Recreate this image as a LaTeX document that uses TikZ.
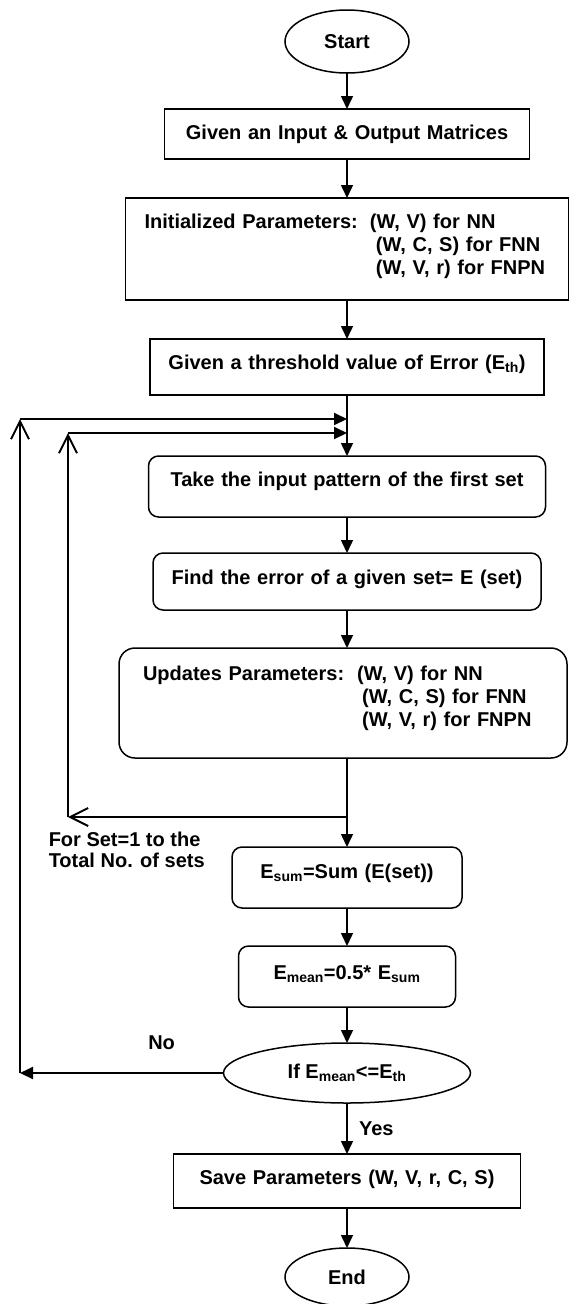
\documentclass[tikz,border=0pt]{standalone}
\usepackage{fontspec}
\setmainfont{Liberation Sans}
\usetikzlibrary{positioning,calc,shapes.geometric,arrows.meta}

\tikzset{
  box/.style={draw, rectangle, inner ysep=0pt, inner xsep=0pt, outer sep=0pt, align=center, text height=30pt},
  rbox/.style={box, rounded corners=10pt},
  term/.style={draw, ellipse, minimum width=124pt, minimum height=63pt, inner sep=0pt, outer sep=0pt},
  barb/.style={-{Straight Barb[length=18pt,width=18pt]}, line width=2pt},
}

\begin{document}
\begin{tikzpicture}[x=1pt, y=1pt, node distance=38pt, line width=1.5pt,
  >={Triangle[length=13pt,width=12pt]},
  every node/.style={font=\bfseries\fontsize{20}{23}\selectfont}]
\useasboundingbox (0,0) rectangle (569,-1304);
\node[term] (0) at (347,-41.5) {Start};
\node[box, text width=365pt, text depth=20pt] (1) [below=of 0, yshift=2pt] {Given an Input \& Output Matrices};
\node[box, text width=405pt, inner xsep=19pt, align=left, text depth=72pt] (2) [below=of 1, yshift=-1pt] {\begin{tabular}[t]{@{}l@{\hspace{12pt}}l@{}}Initialized Parameters: & (W, V) for NN\\ & \hspace{6pt}(W, C, S) for FNN\\ & \hspace{6pt}(W, V, r) for FNPN\end{tabular}};
\node[box, text width=394pt, text depth=26pt] (3) [below=of 2, yshift=-1pt] {Given a threshold value of Error (E\textsubscript{th})};
\node[rbox, text width=397pt, text depth=31pt] (4) [below=of 3, yshift=-23pt] {Take the input pattern of the first set};
\node[rbox, text width=388pt, text height=31pt, text depth=26pt] (5) [below=of 4, yshift=2pt] {Find the error of a given set= E (set)};
\node[rbox, rounded corners=16pt, text width=400pt, inner xsep=24pt, align=left, text height=32pt, text depth=78pt] (6) [below=of 5, xshift=-4pt] {\begin{tabular}[t]{@{}l@{\hspace{13pt}}l@{}}Updates Parameters: & (W, V) for NN\\ & \hspace{5pt}(W, C, S) for FNN\\ & \hspace{5pt}(W, V, r) for FNPN\end{tabular}};
\node[rbox, text width=230pt, text height=31pt, text depth=30pt] (7) [below=of 6, xshift=4pt, yshift=-51pt] {E\textsubscript{sum}=Sum (E(set))};
\node[rbox, text width=217pt, text height=33pt, text depth=28pt] (8) [below=of 7] {E\textsubscript{mean}=0.5* E\textsubscript{sum}};
\node[term, minimum width=247pt, minimum height=60pt] (9) [below=of 8, yshift=2pt] {If E\textsubscript{mean}<=E\textsubscript{th}};
\node[box, text width=347pt, text depth=24pt] (10) [below=of 9, yshift=-13pt] {Save Parameters (W, V, r, C, S)};
\node[term, minimum height=58pt] (11) [below=of 10, yshift=-2pt] {End};

\draw[->] (0) -- (1);
\draw[->] (1) -- (2);
\draw[->] (2) -- (3);
\draw[->] (3) -- (4);
\draw[->] (4) -- (5);
\draw[->] (5) -- (5.south |- 6.north);
\draw[->] (7 |- 6.south) -- (7);
\draw[->] (7) -- (8);
\draw[->] (8) -- (9);
\draw[->] (9) -- node[right=8pt] {Yes} (10);
\draw[->] (10) -- (11);

% loops back to the first set
\coordinate (j) at ($(7.north)+(0,30pt)$);
\coordinate (m1) at ($(4.north)+(-279,23)$);
\coordinate (m2) at (j -| m1);
\coordinate (o1) at ($(4.north)+(-327,37)$);
\coordinate (o2) at (9.west -| o1);
\draw[barb] (j) -- (m2);
\draw[barb] (m2) -- (m1);
\draw[->, line width=2pt] (m1) -- (m1 -| 4.north);
\draw[->, line width=2pt] (9) -- (o2);
\draw[barb] (o2) -- (o1);
\draw[->, line width=2pt] (o1) -- (o1 -| 4.north);

\node[align=left, inner sep=0pt, font=\bfseries\fontsize{20}{21}\selectfont] (12) [below right=14pt and -20pt of m2] {For Set=1 to the\\Total No. of sets};
\node[inner sep=0pt] (13) [above right=23pt and 127.5pt of o2] {No};
\end{tikzpicture}
\end{document}
